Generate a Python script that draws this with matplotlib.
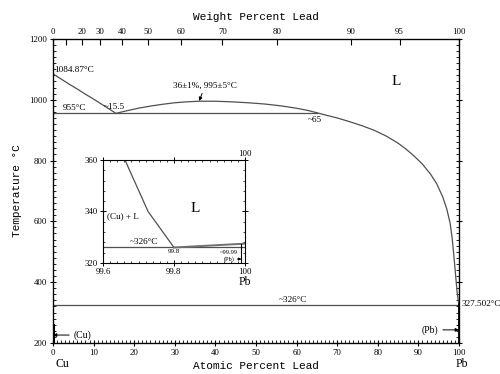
"""
Cu-Pb phase diagram with inset of the Pb-rich corner
"""

import numpy as np
import matplotlib
matplotlib.use('Agg')
import matplotlib.pyplot as plt
from matplotlib.ticker import MultipleLocator, FixedLocator

# ---- data (atomic % Pb, temperature in °C) ----
cu_liq_x = [0, 2, 4, 6, 8, 10, 12, 14, 15.5]
cu_liq_t = [1084.87, 1068, 1051, 1035, 1018, 1002, 985, 968, 955]

dome_x = [15.5, 17, 19, 21, 24, 27, 30, 33, 36, 40, 44, 48, 52, 56, 60, 63, 65]
dome_t = [955, 960, 966, 972, 979, 985, 990, 993, 995, 995, 993, 990, 986,
          980, 972, 964, 957]

pb_liq_x = [65, 67, 70, 73, 76, 79, 82, 85, 87, 89, 91, 93, 94.5, 96, 97,
            97.8, 98.3, 98.7, 99.1, 99.5, 99.8, 100]
pb_liq_t = [957, 950, 940, 928, 915, 900, 881, 857, 837, 814, 788, 755, 724,
            680, 640, 595, 547, 492, 432, 372, 340, 327.5]

monotectic_t = 955
monotectic_x = [0, 65]
eutectic_t = 326
eutectic_x = [0, 100]

# inset (Pb-rich corner)
inset_liq_x = [99.662, 99.727, 99.8]
inset_liq_t = [360, 340, 326]
inset_pb_liq_x = [99.8, 100]
inset_pb_liq_t = [326, 327.5]
pb_solvus_x = 99.99

# top axis: weight percent lead tick labels
wt_ticks = [0, 20, 30, 40, 50, 60, 70, 80, 90, 95, 100]
M_CU, M_PB = 63.546, 207.2


def wt_to_at(w):
    w = np.asarray(w, dtype=float)
    npb = w / M_PB
    ncu = (100 - w) / M_CU
    return 100 * npb / (npb + ncu)


line_kw = dict(color='#505050', linewidth=0.9)
serif = 'Liberation Serif'
mono = 'Liberation Mono'
tick_fs = 6.3
note_fs = 6.6

fig = plt.figure(figsize=(5.0, 3.74), dpi=100)
ax = fig.add_axes([0.106, 0.083, 0.812, 0.813])

ax.plot(cu_liq_x, cu_liq_t, **line_kw)
ax.plot(dome_x, dome_t, **line_kw)
ax.plot(pb_liq_x, pb_liq_t, **line_kw)
ax.plot(monotectic_x, [monotectic_t] * 2, **line_kw)
ax.plot(eutectic_x, [eutectic_t] * 2, **line_kw)
ax.plot([100, 100], [200, 327.5], color='black', linewidth=2)
ax.plot([0.15, 0.15], [200, 260], color='black', linewidth=1.5)

ax.set_xlim(0, 100)
ax.set_ylim(200, 1200)
ax.xaxis.set_major_locator(MultipleLocator(10))
ax.xaxis.set_minor_locator(MultipleLocator(1))
ax.yaxis.set_major_locator(MultipleLocator(200))
ax.yaxis.set_minor_locator(MultipleLocator(20))
ax.tick_params(which='major', direction='inout', length=5, width=0.8,
               labelsize=tick_fs, pad=2, right=True)
ax.tick_params(which='minor', direction='in', length=2, width=0.6,
               top=True, right=True)
for lab in ax.get_xticklabels() + ax.get_yticklabels():
    lab.set_family(serif)
for sp in ax.spines.values():
    sp.set_linewidth(0.9)

ax.set_xlabel('Atomic Percent Lead', fontsize=8, family=mono, labelpad=3)
ax.set_ylabel('Temperature °C', fontsize=8, family=mono, labelpad=5)

# top axis in weight percent
axt = ax.twiny()
axt.set_xlim(ax.get_xlim())
axt.xaxis.set_major_locator(FixedLocator(wt_to_at(wt_ticks)))
axt.set_xticklabels([str(w) for w in wt_ticks], family=serif)
axt.xaxis.set_minor_locator(FixedLocator(wt_to_at([10])))
axt.tick_params(which='major', direction='in', length=4, width=0.8,
                labelsize=tick_fs, pad=2)
axt.tick_params(which='minor', direction='in', length=4, width=0.8)
axt.set_xlabel('Weight Percent Lead', fontsize=8, family=mono, labelpad=6)

# annotations on the main diagram
txt = dict(family=serif, fontsize=note_fs)
ax.text(0.3, 1084.87, '1084.87°C', ha='left', va='bottom', **txt)
ax.text(2.5, 958, '955°C', ha='left', va='bottom', **txt)
ax.text(12.5, 962, '~15.5', ha='left', va='bottom', **txt)
ax.text(64.5, 948, '~65', ha='center', va='top', **txt)
ax.annotate('36±1%, 995±5°C', xy=(36, 996), xytext=(37.5, 1034),
            ha='center', va='bottom', **txt,
            arrowprops=dict(arrowstyle='-|>', color='black', lw=0.7,
                            mutation_scale=5, shrinkA=1, shrinkB=0))
ax.text(59, 328, '~326°C', ha='center', va='bottom', **txt)
ax.text(100.6, 327.5, '327.502°C', ha='left', va='center', clip_on=False, **txt)
ax.text(84.5, 1060, 'L', family=serif, fontsize=11, ha='center', va='center')
ax.annotate('(Cu)', xy=(0, 226), xytext=(5, 226), ha='left', va='center',
            family=serif, fontsize=7,
            arrowprops=dict(arrowstyle='-|>', color='black', lw=0.7,
                            mutation_scale=5, shrinkA=1, shrinkB=0))
ax.annotate('(Pb)', xy=(100, 243), xytext=(95, 243), ha='right', va='center',
            family=serif, fontsize=7,
            arrowprops=dict(arrowstyle='-|>', color='black', lw=0.7,
                            mutation_scale=5, shrinkA=1, shrinkB=0))
fig.text(0.124, 0.027, 'Cu', family=serif, fontsize=8.5, ha='center', va='center')
fig.text(0.924, 0.027, 'Pb', family=serif, fontsize=8.5, ha='center', va='center')

# ---- inset ----
ins = fig.add_axes([0.206, 0.297, 0.284, 0.275])
ins.set_facecolor('white')
ins.plot(inset_liq_x, inset_liq_t, **line_kw)
ins.plot([99.6, 100], [eutectic_t] * 2, **line_kw)
ins.plot(inset_pb_liq_x, inset_pb_liq_t, color='#707070', linewidth=1.4)
ins.plot([pb_solvus_x, pb_solvus_x], [320, 327.5], color='black', linewidth=0.8)
ins.set_xlim(99.6, 100)
ins.set_ylim(320, 360)
ins.xaxis.set_major_locator(FixedLocator([99.6, 99.8, 100]))
ins.set_xticklabels(['99.6', '99.8', '100'], family=serif)
ins.xaxis.set_minor_locator(MultipleLocator(0.02))
ins.yaxis.set_major_locator(MultipleLocator(20))
ins.yaxis.set_major_formatter(plt.FuncFormatter(lambda v, p: f'{v:.0f}'))
ins.yaxis.set_minor_locator(MultipleLocator(4))
ins.tick_params(which='major', direction='inout', length=4, width=0.7,
                labelsize=tick_fs, pad=1.5, top=True, right=True)
ins.tick_params(which='minor', direction='in', length=1.5, width=0.5,
                top=True, right=True)
for lab in ins.get_yticklabels():
    lab.set_family(serif)
for sp in ins.spines.values():
    sp.set_linewidth(0.8)

ins.text(100, 361, '100', family=serif, fontsize=tick_fs, ha='center', va='bottom')
ins.text(100, 315.0, 'Pb', family=serif, fontsize=8.5, ha='center', va='top',
         clip_on=False)
ins.text(99.86, 341, 'L', family=serif, fontsize=11, ha='center', va='center')
ins.text(99.61, 338, '(Cu) + L', family=serif, fontsize=note_fs, ha='left',
         va='center')
ins.text(99.715, 326.6, '~326°C', family=serif, fontsize=note_fs, ha='center',
         va='bottom')
ins.text(99.8, 325.3, '99.8', family=serif, fontsize=5, ha='center', va='top')
ins.text(99.955, 325.0, '~99.99', family=serif, fontsize=4.6, ha='center', va='top')
ins.annotate('(Pb)', xy=(pb_solvus_x, 321.5), xytext=(99.955, 321.5),
             ha='center', va='center', family=serif, fontsize=4.6,
             arrowprops=dict(arrowstyle='-|>', color='black', lw=0.6,
                             mutation_scale=4, shrinkA=5, shrinkB=0))

fig.savefig('out.png', dpi=100)
plt.close(fig)
